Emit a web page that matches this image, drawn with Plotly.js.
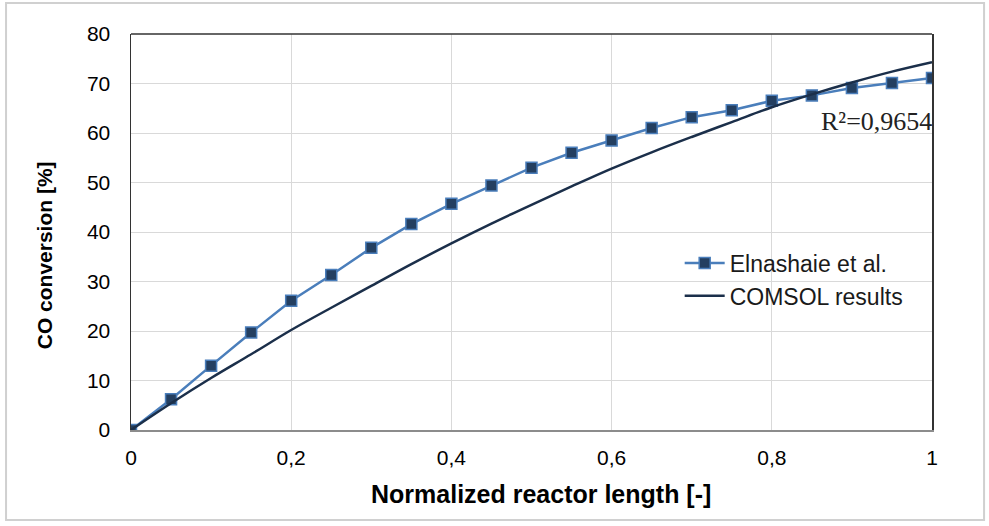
<!DOCTYPE html>
<html>
<head>
<meta charset="utf-8">
<script src="https://cdn.plot.ly/plotly-3.0.1.min.js"></script>
<style>html,body{margin:0;padding:0;background:#fff;}#chart{width:989px;height:526px;}</style>
</head>
<body>
<div id="chart"></div>
<script>
// Normalized reactor length
const xLength = [0, 0.05, 0.1, 0.15, 0.2, 0.25, 0.3, 0.35, 0.4, 0.45, 0.5, 0.55, 0.6, 0.65, 0.7, 0.75, 0.8, 0.85, 0.9, 0.95, 1];
// Elnashaie et al. CO conversion [%]
const elnashaie = [0, 6.2, 13.0, 19.7, 26.1, 31.3, 36.8, 41.6, 45.7, 49.4, 53.0, 56.0, 58.5, 61.0, 63.2, 64.6, 66.5, 67.6, 69.1, 70.1, 71.1];
// COMSOL results CO conversion [%]
const comsol = [0, 5.4, 10.5, 15.3, 20.2, 24.7, 29.1, 33.5, 37.7, 41.7, 45.5, 49.2, 52.8, 56.1, 59.2, 62.2, 65.2, 67.8, 70.2, 72.4, 74.3];
const xTickVals = [0, 0.2, 0.4, 0.6, 0.8, 1];
const xTickText = ['0', '0,2', '0,4', '0,6', '0,8', '1'];
const yTickVals = [0, 10, 20, 30, 40, 50, 60, 70, 80];
const yTickText = ['0', '10', '20', '30', '40', '50', '60', '70', '80'];
const xTitle = 'Normalized reactor length [-]';
const yTitle = 'CO conversion [%]';
const r2Text = 'R²=0,9654';

const traces = [
  {
    x: xLength, y: elnashaie, name: 'Elnashaie et al.', type: 'scatter', mode: 'lines+markers',
    line: {color: '#4A7EBB', width: 2.5},
    marker: {symbol: 'square', size: 11, color: '#243F60', line: {color: '#4A7EBB', width: 1.5}}
  },
  {
    x: xLength, y: comsol, name: 'COMSOL results', type: 'scatter', mode: 'lines',
    line: {color: '#1B2F4A', width: 2.5, shape: 'spline'}
  }
];

const fontBase = {family: 'Liberation Sans, Arial, sans-serif', color: '#000'};
const layout = {
  width: 989, height: 526,
  margin: {l: 131, r: 57, t: 34, b: 96},
  paper_bgcolor: '#fff', plot_bgcolor: '#fff',
  showlegend: true,
  legend: {x: 0.685, y: 0.38, xanchor: 'left', yanchor: 'middle', bgcolor: 'rgba(0,0,0,0)',
           font: Object.assign({}, fontBase, {size: 23, color: '#1a1a1a'}), tracegroupgap: 0, itemwidth: 40},
  xaxis: {
    range: [0, 1], tickvals: xTickVals, ticktext: xTickText,
    showgrid: true, gridcolor: '#d9d9d9', gridwidth: 1, zeroline: false,
    showline: true, linecolor: '#8c8c8c', linewidth: 1.5, ticks: '',
    ticklabelstandoff: 8,
    tickfont: Object.assign({}, fontBase, {size: 21}),
    fixedrange: true
  },
  yaxis: {
    range: [0, 80], tickvals: yTickVals, ticktext: yTickText,
    showgrid: true, gridcolor: '#d9d9d9', gridwidth: 1, zeroline: false,
    showline: true, linecolor: '#333', linewidth: 1.5, mirror: true, ticks: '',
    ticklabelstandoff: 15,
    tickfont: Object.assign({}, fontBase, {size: 21}),
    fixedrange: true
  },
  shapes: [
    {type: 'line', xref: 'paper', yref: 'paper', x0: 0, x1: 1, y0: 1, y1: 1, line: {color: '#333', width: 1.5}},
    {type: 'rect', xref: 'paper', yref: 'paper', x0: -0.156, x1: 1.065, y0: -0.227, y1: 1.078, line: {color: '#d0d0d0', width: 2}}
  ],
  annotations: [
    {xref: 'paper', yref: 'paper', x: 1.002, y: 0.78, xanchor: 'right', yanchor: 'middle', showarrow: false,
     text: r2Text, font: {family: 'Liberation Serif, Times New Roman, serif', size: 26, color: '#222'}},
    {xref: 'paper', yref: 'paper', x: 0.512, y: -0.162, xanchor: 'center', yanchor: 'middle', showarrow: false,
     text: '<b>' + xTitle + '</b>', font: Object.assign({}, fontBase, {size: 25})},
    {xref: 'paper', yref: 'paper', x: -0.107, y: 0.442, xanchor: 'center', yanchor: 'middle', showarrow: false,
     textangle: -90, text: '<b>' + yTitle + '</b>', font: Object.assign({}, fontBase, {size: 21})}
  ]
};

Plotly.newPlot('chart', traces, layout, {displayModeBar: false, staticPlot: true});
</script>
</body>
</html>
